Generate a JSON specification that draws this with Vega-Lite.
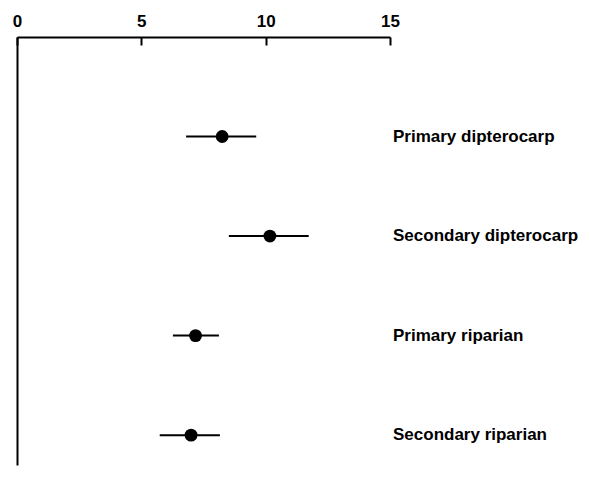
{
  "$schema": "https://vega.github.io/schema/vega-lite/v6.json",
  "width": 373,
  "height": 428,
  "autosize": {"type": "none"},
  "padding": {"left": 17, "top": 37, "right": 200, "bottom": 14},
  "background": "white",
  "config": {"view": {"stroke": null}},
  "data": {
    "values": [
      {"habitat": "Primary dipterocarp", "row": 1, "mean": 8.25, "low": 6.8, "high": 9.62},
      {"habitat": "Secondary dipterocarp", "row": 2, "mean": 10.17, "low": 8.52, "high": 11.73},
      {"habitat": "Primary riparian", "row": 3, "mean": 7.18, "low": 6.27, "high": 8.12},
      {"habitat": "Secondary riparian", "row": 4, "mean": 7.0, "low": 5.74, "high": 8.16}
    ]
  },
  "encoding": {
    "y": {
      "field": "row",
      "type": "quantitative",
      "scale": {"domain": [0, 4.3], "reverse": true, "nice": false, "zero": false},
      "axis": {
        "orient": "left",
        "title": null,
        "labels": false,
        "ticks": false,
        "grid": false,
        "domainColor": "black",
        "domainWidth": 2
      }
    }
  },
  "layer": [
    {
      "mark": {"type": "rule", "color": "black", "strokeWidth": 2},
      "encoding": {
        "x": {
          "field": "low",
          "type": "quantitative",
          "scale": {"domain": [0, 15], "nice": false},
          "axis": {
            "orient": "top",
            "title": null,
            "values": [0, 5, 10, 15],
            "grid": false,
            "labelFlush": false,
            "labelFont": "Liberation Sans",
            "labelFontWeight": "bold",
            "labelFontSize": 17,
            "labelColor": "black",
            "labelPadding": 15,
            "tickSize": -8,
            "tickWidth": 2,
            "tickColor": "black",
            "domainColor": "black",
            "domainWidth": 2
          }
        },
        "x2": {"field": "high"}
      }
    },
    {
      "mark": {"type": "point", "filled": true, "color": "black", "size": 165, "opacity": 1},
      "encoding": {
        "x": {"field": "mean", "type": "quantitative"}
      }
    },
    {
      "mark": {
        "type": "text",
        "align": "left",
        "baseline": "middle",
        "dx": 3,
        "font": "Liberation Sans",
        "fontWeight": "bold",
        "fontSize": 17,
        "color": "black"
      },
      "encoding": {
        "x": {"datum": 15},
        "text": {"field": "habitat"}
      }
    }
  ]
}
